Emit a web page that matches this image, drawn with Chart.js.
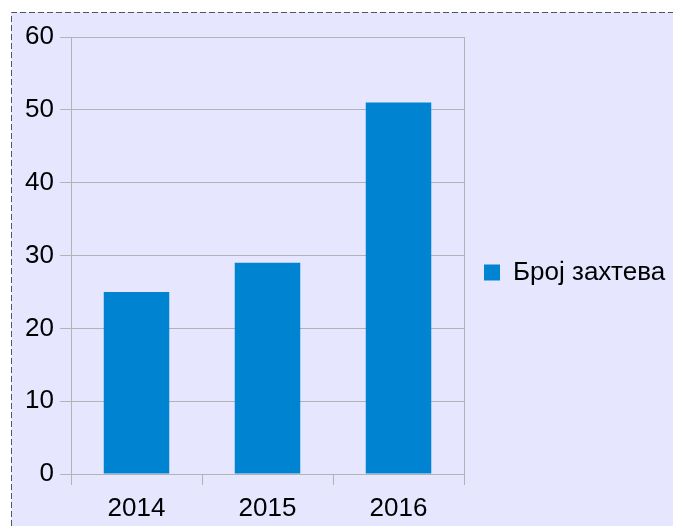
<!DOCTYPE html>
<html>
<head>
<meta charset="utf-8">
<script src="https://cdn.jsdelivr.net/npm/chart.js@4/dist/chart.umd.min.js"></script>
<style>
html,body{margin:0;padding:0;background:#ffffff;}
#wrap{position:absolute;left:0;top:0;width:673px;height:526px;}
</style>
</head>
<body>
<div id="wrap"><canvas id="c" width="673" height="526"></canvas></div>
<script>
const categories = ['2014', '2015', '2016'];
const seriesName = 'Број захтева';
const seriesValues = [25, 29, 51];
const yTicks = [0, 10, 20, 30, 40, 50, 60];

const GRID = '#b3b3b3';
const BAR = '#0084d1';

const backgroundPlugin = {
  id: 'pageFrame',
  beforeDraw(chart) {
    const ctx = chart.ctx;
    ctx.save();
    ctx.fillStyle = '#e6e6ff';
    ctx.fillRect(11, 12, chart.width, chart.height);
    ctx.strokeStyle = '#555555';
    ctx.lineWidth = 1;
    ctx.setLineDash([6, 3]);
    ctx.beginPath();
    ctx.moveTo(11.5, chart.height);
    ctx.lineTo(11.5, 12.5);
    ctx.lineTo(chart.width, 12.5);
    ctx.stroke();
    ctx.restore();
  }
};

const legendPlacePlugin = {
  id: 'legendPlace',
  afterInit(chart) {
    const lg = chart.legend;
    if (!lg) return;
    const orig = lg.fit.bind(lg);
    lg.fit = function () {
      orig();
      this.width = 209;
    };
  },
  afterLayout(chart) {
    const lg = chart.legend;
    if (!lg) return;
    lg.top -= 9;
    lg.bottom -= 9;
  }
};

Chart.defaults.font.family = '"Liberation Sans", Arial, sans-serif';
Chart.defaults.color = '#000000';

new Chart(document.getElementById('c'), {
  type: 'bar',
  data: {
    labels: categories,
    datasets: [{
      label: seriesName,
      data: seriesValues,
      backgroundColor: BAR,
      borderWidth: 0,
      categoryPercentage: 1,
      barPercentage: 0.5
    }]
  },
  options: {
    responsive: false,
    animation: false,
    devicePixelRatio: 1,
    layout: { padding: { left: 11, top: 37, right: 0, bottom: 0 } },
    plugins: {
      legend: {
        position: 'right',
        align: 'center',
        labels: {
          boxWidth: 16,
          boxHeight: 16,
          padding: 20,
          font: { size: 26 },
          color: '#000000'
        }
      },
      tooltip: { enabled: false }
    },
    scales: {
      x: {
        grid: {
          offset: true,
          color: (ctx) => (ctx.type === 'scale' || ctx.index === 0) ? GRID : 'rgba(0,0,0,0)',
          tickColor: GRID,
          tickLength: 11,
          lineWidth: 1
        },
        border: { display: true, color: GRID },
        ticks: { font: { size: 26 }, padding: 8, color: '#000000' },
        afterFit(scale) { scale.height = 52; }
      },
      y: {
        min: 0,
        max: 60,
        afterBuildTicks(scale) { scale.ticks = yTicks.map(v => ({ value: v })); },
        grid: { color: GRID, tickColor: GRID, tickLength: 11, lineWidth: 1 },
        border: { display: true, color: GRID },
        ticks: { font: { size: 26 }, padding: 6, color: '#000000' },
        afterFit(scale) { scale.width = 60; }
      }
    }
  },
  plugins: [backgroundPlugin, legendPlacePlugin]
});
</script>
</body>
</html>
